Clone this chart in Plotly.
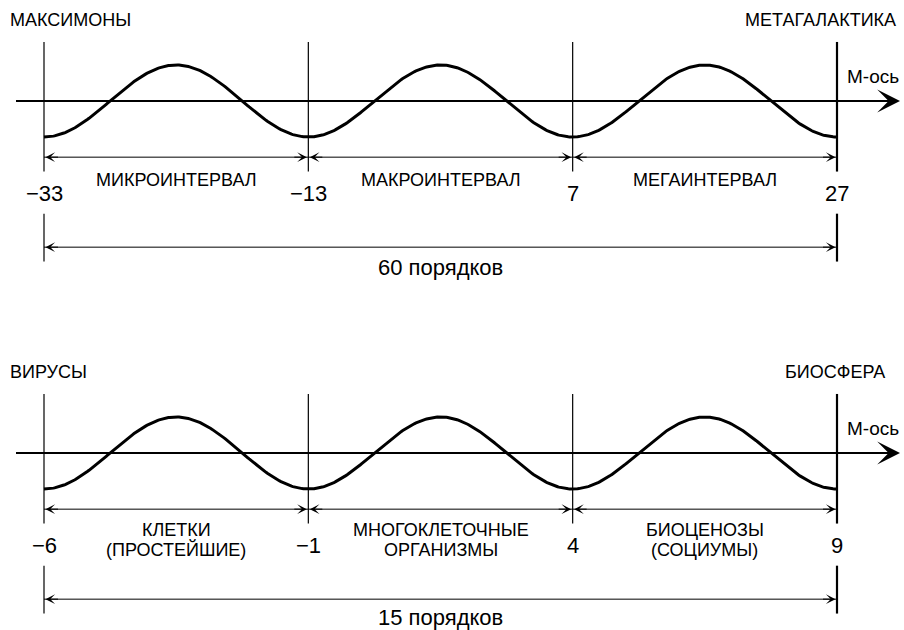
import numpy as np
import plotly.graph_objects as go

# ---------------- data ----------------
top_bounds = [-33, -13, 7, 27]
top_intervals = ["МИКРОИНТЕРВАЛ", "МАКРОИНТЕРВАЛ", "МЕГАИНТЕРВАЛ"]
top_left_label = "МАКСИМОНЫ"
top_right_label = "МЕТАГАЛАКТИКА"
top_total_unit = "порядков"

bottom_bounds = [-6, -1, 4, 9]
bottom_intervals = ["КЛЕТКИ\n(ПРОСТЕЙШИЕ)", "МНОГОКЛЕТОЧНЫЕ\nОРГАНИЗМЫ", "БИОЦЕНОЗЫ\n(СОЦИУМЫ)"]
bottom_left_label = "ВИРУСЫ"
bottom_right_label = "БИОСФЕРА"
bottom_total_unit = "порядков"

axis_name = "М-ось"

# ---------------- style / layout ----------------
FONT = "Liberation Sans, Arial, Helvetica, sans-serif"
W, H = 904, 630
X0_PX, X1_PX = 44, 837      # pixel position of first / last boundary
PX_PER_V = 36               # pixels per unit of wave amplitude
PANEL_H = 315
LAB_SIZE = 18

panels = [
    dict(bounds=top_bounds, intervals=top_intervals, left=top_left_label,
         right=top_right_label, unit=top_total_unit, xa="x", ya="y",
         top_px=0, axis_px=101, right_px=898),
    dict(bounds=bottom_bounds, intervals=bottom_intervals, left=bottom_left_label,
         right=bottom_right_label, unit=bottom_total_unit, xa="x2", ya="y2",
         top_px=315, axis_px=453, right_px=887),
]


def fmt(v):
    return ("\u2212" + str(abs(v))) if v < 0 else str(v)


fig = go.Figure()
shapes = []
annotations = []
layout_axes = {}

for i, p in enumerate(panels):
    b = p["bounds"]
    b0, bn = b[0], b[-1]
    s = (X1_PX - X0_PX) / (bn - b0)

    def xd(px, b0=b0, s=s):
        return b0 + (px - X0_PX) / s

    xa, ya = p["xa"], p["ya"]
    xname = "xaxis" if xa == "x" else "xaxis2"
    yname = "yaxis" if ya == "y" else "yaxis2"
    T, A = p["top_px"], p["axis_px"]
    dom_lo = 1 - (T + PANEL_H) / H
    dom_hi = 1 - T / H
    ybot = (A - (T + PANEL_H)) / PX_PER_V
    layout_axes[xname] = dict(range=[xd(0), xd(W)], domain=[0, 1], visible=False,
                              fixedrange=True, anchor=ya)
    layout_axes[yname] = dict(range=[ybot, (A - T) / PX_PER_V],
                              domain=[dom_lo, dom_hi], visible=False, fixedrange=True,
                              anchor=xa)

    # wave: minimum at each boundary, one full period per interval
    period = b[1] - b[0]
    xs = np.linspace(b0, bn, 600)
    ys = -np.cos(2 * np.pi * (xs - b0) / period)
    fig.add_trace(go.Scatter(x=xs, y=ys, mode="lines", xaxis=xa, yaxis=ya,
                             line=dict(color="black", width=3), hoverinfo="skip",
                             showlegend=False))

    # main axis
    shapes.append(dict(type="line", xref=xa, yref=ya, x0=xd(16), x1=xd(885), y0=0, y1=0,
                       line=dict(color="black", width=2)))
    annotations.append(dict(xref=xa, yref=ya, x=xd(900), y=0, ax=-30, ay=0, text="",
                            showarrow=True, arrowhead=3, arrowwidth=2, arrowsize=1.9,
                            arrowcolor="black", standoff=0))
    annotations.append(dict(xref=xa, yref=ya, x=xd(845), y=0.69, text=axis_name,
                            showarrow=False, xanchor="left", yanchor="middle",
                            font=dict(family=FONT, size=19, color="black")))

    # end labels
    annotations.append(dict(xref=xa, yref=ya, x=xd(8), y=2.24, text=p["left"],
                            showarrow=False, xanchor="left", yanchor="middle",
                            font=dict(family=FONT, size=LAB_SIZE, color="black")))
    annotations.append(dict(xref=xa, yref=ya, x=xd(p["right_px"]), y=2.24, text=p["right"],
                            showarrow=False, xanchor="right", yanchor="middle",
                            font=dict(family=FONT, size=LAB_SIZE, color="black")))

    # vertical boundary lines + numbers
    for k, bv in enumerate(b):
        last = (k == len(b) - 1)
        w = 2.2 if last else 1.2
        shapes.append(dict(type="line", xref=xa, yref=ya, x0=bv, x1=bv, y0=1.64, y1=-1.96,
                           line=dict(color="black", width=w)))
        if k == 0 or last:
            shapes.append(dict(type="line", xref=xa, yref=ya, x0=bv, x1=bv, y0=-3.13, y1=-4.46,
                               line=dict(color="black", width=w)))
        annotations.append(dict(xref=xa, yref=ya, x=bv, y=-2.57, text=fmt(bv),
                                showarrow=False, xanchor="center", yanchor="middle",
                                font=dict(family=FONT, size=22, color="black")))

    # interval arrows and labels
    for k, lab in enumerate(p["intervals"]):
        l, r = b[k], b[k + 1]
        shapes.append(dict(type="line", xref=xa, yref=ya, x0=l, x1=r, y0=-1.56, y1=-1.56,
                           line=dict(color="black", width=1)))
        for end, off in ((l + 1.5 / s, 14), (r - 1.5 / s, -14)):
            annotations.append(dict(xref=xa, yref=ya, x=end, y=-1.56, ax=off, ay=0, text="",
                                    showarrow=True, arrowhead=3, arrowwidth=1, arrowsize=1.6,
                                    arrowcolor="black", standoff=0))
        lines = lab.split("\n")
        mid = (l + r) / 2
        if len(lines) == 1:
            ys_lab = [-2.19]
        else:
            ys_lab = [-2.15, -2.69]
        for t, yl in zip(lines, ys_lab):
            annotations.append(dict(xref=xa, yref=ya, x=mid, y=yl, text=t,
                                    showarrow=False, xanchor="center", yanchor="middle",
                                    font=dict(family=FONT, size=LAB_SIZE, color="black")))

    # total span arrow
    shapes.append(dict(type="line", xref=xa, yref=ya, x0=b0, x1=bn, y0=-4.06, y1=-4.06,
                       line=dict(color="black", width=1)))
    for end, off in ((b0 + 1.5 / s, 14), (bn - 1.5 / s, -14)):
        annotations.append(dict(xref=xa, yref=ya, x=end, y=-4.06, ax=off, ay=0, text="",
                                showarrow=True, arrowhead=3, arrowwidth=1, arrowsize=1.6,
                                arrowcolor="black", standoff=0))
    # total label: centred like the reference, but kept inside the figure
    y_total = max(-4.62, ybot + 0.36)
    annotations.append(dict(xref=xa, yref=ya, x=(b0 + bn) / 2, y=y_total,
                            text=f"{bn - b0} {p['unit']}", showarrow=False,
                            xanchor="center", yanchor="middle", borderpad=0,
                            font=dict(family=FONT, size=22, color="black")))

fig.update_layout(width=W, height=H, margin=dict(l=0, r=0, t=0, b=0),
                  paper_bgcolor="white", plot_bgcolor="white",
                  shapes=shapes, annotations=annotations, showlegend=False,
                  **layout_axes)

fig.write_html("out.html", config={"displayModeBar": False},
               post_script="document.body.style.margin='0';document.body.style.overflow='hidden';")
